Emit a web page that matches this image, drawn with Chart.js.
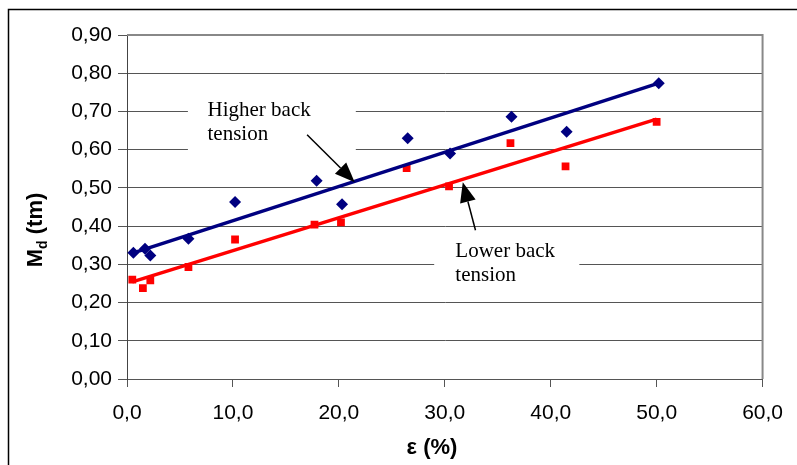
<!DOCTYPE html>
<html>
<head>
    <meta charset="UTF-8" />
    <title>Md vs strain</title>
    <script src="https://cdn.jsdelivr.net/npm/chart.js"></script>
    <style>
        body { margin: 0; background: #fff; }
        canvas { display: block; }
    </style>
</head>
<body>
    <canvas id="mdChart" width="797" height="465"></canvas>

    <script>
        const higherStrain = [0.6, 1.7, 2.2, 5.8, 10.2, 17.9, 20.3, 26.5, 30.5, 36.3, 41.5, 50.2];
        const higherMd     = [0.33, 0.341, 0.323, 0.367, 0.463, 0.519, 0.457, 0.63, 0.59, 0.686, 0.647, 0.774];
        const lowerStrain  = [0.5, 1.5, 2.2, 5.8, 10.2, 17.7, 20.2, 26.4, 30.4, 36.2, 41.4, 50.0];
        const lowerMd      = [0.26, 0.238, 0.258, 0.293, 0.365, 0.404, 0.41, 0.552, 0.504, 0.617, 0.556, 0.673];

        // linear trend lines (end points)
        const higherTrendX = [0.6, 50.2];
        const higherTrendY = [0.330, 0.774];
        const lowerTrendX  = [0.5, 50.0];
        const lowerTrendY  = [0.254, 0.680];

        const xTickLabels = ['0,0', '10,0', '20,0', '30,0', '40,0', '50,0', '60,0'];
        const yTickLabels = ['0,00', '0,10', '0,20', '0,30', '0,40', '0,50', '0,60', '0,70', '0,80', '0,90'];

        const toPoints = (xs, ys) => xs.map((x, i) => ({ x: x, y: ys[i] }));

        const NAVY = '#000080';
        const RED = '#ff0000';
        const tickFont = { family: "'Liberation Sans', Arial, sans-serif", size: 21 };

        // white page, outer frame, plot frame, axis titles and the two callouts
        const decorations = {
            id: 'decorations',
            beforeDraw(chart) {
                const ctx = chart.ctx;
                ctx.save();
                ctx.fillStyle = '#fff';
                ctx.fillRect(0, 0, chart.width, chart.height);
                ctx.strokeStyle = '#000';
                ctx.lineWidth = 1.5;
                ctx.beginPath();
                ctx.moveTo(8.5, chart.height + 5);
                ctx.lineTo(8.5, 9.5);
                ctx.lineTo(chart.width + 5, 9.5);
                ctx.stroke();
                ctx.restore();
            },
            afterDatasetsDraw(chart) {
                const ctx = chart.ctx;
                const xs = chart.scales.x, ys = chart.scales.y;
                const px = v => xs.getPixelForValue(v);
                const py = v => ys.getPixelForValue(v);
                const area = chart.chartArea;
                ctx.save();

                // right and top border of the plot area
                ctx.strokeStyle = '#888';
                ctx.lineWidth = 2;
                ctx.beginPath();
                ctx.moveTo(area.left, area.top);
                ctx.lineTo(area.right, area.top);
                ctx.lineTo(area.right, area.bottom);
                ctx.stroke();

                const callout = (box, lines, textX, baselines, from, to) => {
                    ctx.fillStyle = '#fff';
                    ctx.fillRect(px(box[0]), py(box[1]), px(box[2]) - px(box[0]), py(box[3]) - py(box[1]));
                    ctx.fillStyle = '#000';
                    ctx.font = "21px 'Liberation Serif', 'Times New Roman', serif";
                    ctx.textAlign = 'left';
                    ctx.textBaseline = 'alphabetic';
                    lines.forEach((t, i) => ctx.fillText(t, px(textX), py(baselines[i])));
                    // arrow
                    const x1 = px(from[0]), y1 = py(from[1]);
                    const x2 = px(to[0]), y2 = py(to[1]);
                    const ang = Math.atan2(y2 - y1, x2 - x1);
                    const headLen = 20, headW = 8;
                    const bx = x2 - headLen * Math.cos(ang), by = y2 - headLen * Math.sin(ang);
                    ctx.strokeStyle = '#000';
                    ctx.lineWidth = 1.5;
                    ctx.beginPath();
                    ctx.moveTo(x1, y1);
                    ctx.lineTo(bx, by);
                    ctx.stroke();
                    ctx.beginPath();
                    ctx.moveTo(x2, y2);
                    ctx.lineTo(bx + headW * Math.sin(ang), by - headW * Math.cos(ang));
                    ctx.lineTo(bx - headW * Math.sin(ang), by + headW * Math.cos(ang));
                    ctx.closePath();
                    ctx.fill();
                };

                callout([5.75, 0.754, 21.6, 0.571], ['Higher back', 'tension'], 7.6, [0.689, 0.624],
                        [17.0, 0.639], [21.5, 0.515]);
                callout([29.0, 0.363, 42.7, 0.219], ['Lower back', 'tension'], 31.0, [0.319, 0.256],
                        [32.9, 0.389], [31.7, 0.515]);

                // x axis title
                ctx.fillStyle = '#000';
                ctx.font = "bold 22px 'Liberation Sans', Arial, sans-serif";
                ctx.textAlign = 'center';
                ctx.textBaseline = 'middle';
                ctx.fillText('\u03b5 (%)', 432, 448);

                // y axis title with subscript
                ctx.translate(42, 230);
                ctx.rotate(-Math.PI / 2);
                const big = "bold 22px 'Liberation Sans', Arial, sans-serif";
                const small = "bold 14px 'Liberation Sans', Arial, sans-serif";
                ctx.textAlign = 'left';
                ctx.textBaseline = 'alphabetic';
                ctx.font = big;
                const wM = ctx.measureText('M').width;
                const wRest = ctx.measureText(' (tm)').width;
                ctx.font = small;
                const wd = ctx.measureText('d').width;
                let x0 = -(wM + wd + wRest) / 2;
                ctx.font = big;
                ctx.fillText('M', x0, 0);
                ctx.font = small;
                ctx.fillText('d', x0 + wM, 5);
                ctx.font = big;
                ctx.fillText(' (tm)', x0 + wM + wd, 0);
                ctx.restore();
            }
        };

        const ctx = document.getElementById('mdChart').getContext('2d');
        new Chart(ctx, {
            type: 'scatter',
            data: {
                datasets: [
                    {
                        label: 'Higher back tension trend',
                        type: 'line',
                        data: toPoints(higherTrendX, higherTrendY),
                        borderColor: NAVY,
                        borderWidth: 3.5,
                        pointRadius: 0,
                        fill: false,
                        order: 0
                    },
                    {
                        label: 'Lower back tension trend',
                        type: 'line',
                        data: toPoints(lowerTrendX, lowerTrendY),
                        borderColor: RED,
                        borderWidth: 3.5,
                        pointRadius: 0,
                        fill: false,
                        order: 0
                    },
                    {
                        label: 'Higher back tension',
                        data: toPoints(higherStrain, higherMd),
                        pointStyle: 'rectRot',
                        pointRadius: 6,
                        backgroundColor: NAVY,
                        borderColor: NAVY,
                        borderWidth: 0,
                        order: 1
                    },
                    {
                        label: 'Lower back tension',
                        data: toPoints(lowerStrain, lowerMd),
                        pointStyle: 'rect',
                        pointRadius: 5.5,
                        backgroundColor: RED,
                        borderColor: RED,
                        borderWidth: 0,
                        order: 1
                    }
                ]
            },
            options: {
                responsive: false,
                animation: false,
                layout: { padding: { top: 35, right: 33, left: 0, bottom: 0 } },
                plugins: {
                    legend: { display: false },
                    tooltip: { enabled: false }
                },
                scales: {
                    x: {
                        type: 'linear',
                        min: 0,
                        max: 60,
                        afterFit: s => { s.height = 86; },
                        ticks: {
                            stepSize: 10,
                            color: '#000',
                            font: tickFont,
                            padding: 14,
                            maxRotation: 0,
                            callback: (v, i) => xTickLabels[i]
                        },
                        grid: { drawOnChartArea: false, drawTicks: true, tickLength: 8, color: '#555' },
                        border: { color: '#555', width: 1 }
                    },
                    y: {
                        min: 0,
                        max: 0.9,
                        afterFit: s => { s.width = 127; },
                        ticks: {
                            stepSize: 0.1,
                            color: '#000',
                            font: tickFont,
                            padding: 6,
                            callback: (v, i) => yTickLabels[i]
                        },
                        grid: { color: '#555', lineWidth: 1, tickLength: 9 },
                        border: { color: '#444', width: 1 }
                    }
                }
            },
            plugins: [decorations]
        });
    </script>
</body>
</html>
